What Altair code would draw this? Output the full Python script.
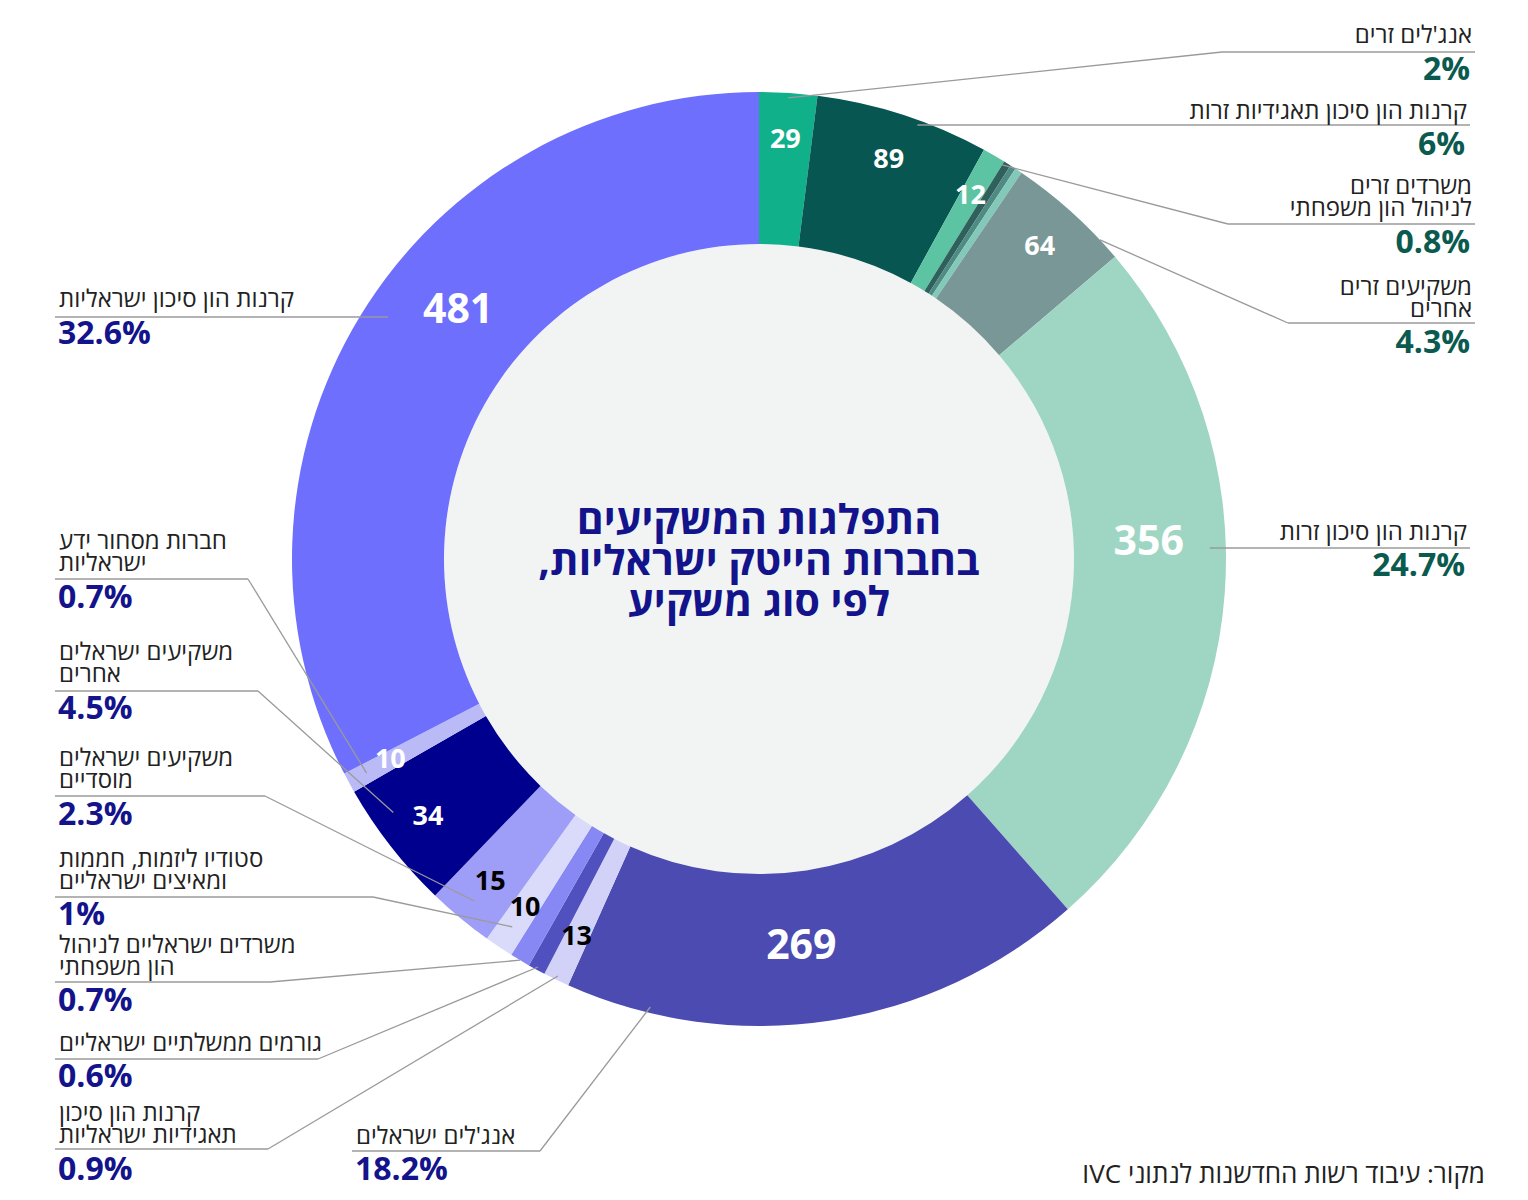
import math
import altair as alt
import pandas as pd

# Investor types, clockwise from 12 o'clock
categories = [
    "אנג'לים זרים",
    "קרנות הון סיכון תאגידיות זרות",
    "משרדים זרים לניהול הון משפחתי",
    "foreign_minor_1",
    "foreign_minor_2",
    "foreign_minor_3",
    "משקיעים זרים אחרים",
    "קרנות הון סיכון זרות",
    "אנג'לים ישראלים",
    "קרנות הון סיכון תאגידיות ישראליות",
    "גורמים ממשלתיים ישראליים",
    "משרדים ישראליים לניהול הון משפחתי",
    "סטודיו ליזמות, חממות ומאיצים ישראליים",
    "משקיעים ישראלים מוסדיים",
    "משקיעים ישראלים אחרים",
    "חברות מסחור ידע ישראליות",
    "קרנות הון סיכון ישראליות",
]
# share of investors, percent
shares = [2, 6, 0.8, 0.25, 0.2, 0.25, 4.3, 24.7, 18.2, 0.9, 0.6, 0.7, 1, 2.3, 4.5, 0.7, 32.6]
# counts printed inside the ring
slice_numbers = ["29", "89", "12", "", "", "", "64", "356", "269", "13", "", "", "10", "15", "34", "10", "481"]

slice_colors = [
    "#10B08B", "#075652", "#5CC4A3", "#2F605C", "#4F8A83", "#82C9B9", "#7A9798", "#9FD6C3",
    "#4C4BB1", "#D2D2F8", "#5050BF", "#8888F4", "#DADAFA", "#9E9EF8", "#00008E", "#BABAF6", "#6F6FFD",
]
number_colors = [
    "white", "white", "white", "white", "white", "white", "white", "white",
    "white", "black", "white", "white", "black", "black", "white", "white", "white",
]

title_lines = ["התפלגות המשקיעים", "בחברות הייטק ישראליות,", "לפי סוג משקיע"]
source_note = "מקור: עיבוד רשות החדשנות לנתוני IVC"

W, H = 1528, 1200
CX, CY = 759, 559
R_IN, R_OUT = 315, 467
NUM_FONT = "Open Sans"
HEB_FONT = "Open Sans"
NAVY = "#13138C"
TEAL = "#0B5A4F"
LEADER = "#9A9A9A"
BIG = ["481", "356", "269"]
# angular nudges (radians) for the large counts
BIG_NUDGE = {"481": 0.143, "356": -0.113, "269": 0.042}


def rtl(s):
    return "\u202B" + s + "\u202C"


df = pd.DataFrame({
    "cat": categories,
    "share": shares,
    "idx": list(range(len(categories))),
    "numcolor": number_colors,
    "small": [n if n not in BIG else "" for n in slice_numbers],
})
for b in BIG:
    df["big_" + b] = [n if n == b else "" for n in slice_numbers]

base = alt.Chart(df).encode(
    theta=alt.Theta("share:Q", stack=True),
    order=alt.Order("idx:Q"),
    x=alt.value(CX),
    y=alt.value(CY),
)

ring = base.mark_arc(innerRadius=R_IN, outerRadius=R_OUT).encode(
    color=alt.Color("cat:N", scale=alt.Scale(domain=categories, range=slice_colors), legend=None)
)

small_nums = base.mark_text(radius=420, fontSize=27, fontWeight="bold", font=NUM_FONT).encode(
    text="small:N", fill=alt.Fill("numcolor:N", scale=None)
)
big_nums = [
    base.mark_text(radius=390, fontSize=41, fontWeight="bold", font=NUM_FONT,
                   thetaOffset=BIG_NUDGE[b], fill="white").encode(text=f"big_{b}:N")
    for b in BIG
]

disc = alt.Chart(pd.DataFrame({"k": [0]})).mark_arc(
    theta=0, theta2=2 * math.pi, outerRadius=R_IN, innerRadius=0, fill="#F1F4F3"
).encode(x=alt.value(CX), y=alt.value(CY))

# callout placement: slice, side, first name line y, rule y, percent y,
# outer rule end, inner rule end (None = runs straight to the ring), anchor fraction, anchor radius, words on line 1
callouts = [
    (0, "R", 36, 52, 70, 1475, 1222, 0.5, 462, 0),
    (1, "R", 112, 125, 145, 1470, None, 0, 462, 0),
    (2, "R", 187, 224, 243, 1475, 1228, 1.0, 463, 2),
    (6, "R", 288, 323, 343, 1475, 1288, 0.82, 467, 2),
    (7, "R", 533, 548, 566, 1470, None, 0, 451, 0),
    (16, "L", 300, 317, 334, 55, None, 0, 443, 0),
    (15, "L", 542, 579, 598, 55, 248, 0.5, 447, 3),
    (14, "L", 653, 691, 709, 55, 258, 0.7, 445, 2),
    (13, "L", 759, 796, 815, 55, 265, 0.5, 445, 2),
    (12, "L", 860, 897, 915, 55, 373, 0.5, 443, 3),
    (11, "L", 946, 982, 1001, 55, 270, 0.5, 467, 3),
    (10, "L", 1044, 1059, 1077, 55, 318, 0.5, 464, 0),
    (9, "L", 1114, 1149, 1170, 55, 268, 0.5, 463, 3),
    (8, "L", 1137, 1151, 1170, 352, 540, 0.84, 461, 0),
]


def ring_point(i, frac, r):
    a0 = sum(shares[:i]) * 3.6
    a1 = a0 + shares[i] * 3.6
    a = math.radians(a0 + frac * (a1 - a0))
    return CX + r * math.sin(a), CY - r * math.cos(a)


segs, names_l, names_r, pct_l, pct_r = [], [], [], [], []
for i, side, ny, ry, py, far, near, frac, ar, split in callouts:
    sgn = 1 if side == "R" else -1
    if near is None:
        near = CX + sgn * math.sqrt(ar ** 2 - (ry - CY) ** 2)
        segs.append({"x": far, "y": ry, "x2": near, "y2": ry})
    else:
        ax, ay = ring_point(i, frac, ar)
        segs.append({"x": far, "y": ry, "x2": near, "y2": ry})
        segs.append({"x": near, "y": ry, "x2": ax, "y2": ay})
    words = categories[i].split(" ")
    lines = [" ".join(words[:split]), " ".join(words[split:])] if split else [categories[i]]
    tx = far - 3 if side == "R" else far + 4
    (names_r if side == "R" else names_l).append(
        {"x": tx, "y": ny, "t": "\n".join(rtl(ln) for ln in lines)})
    (pct_r if side == "R" else pct_l).append({"x": tx - 2 if side == "R" else tx - 1, "y": py,
                                             "t": f"{shares[i]:g}%"})

XY = dict(x=alt.X("x:Q", scale=None, axis=None), y=alt.Y("y:Q", scale=None, axis=None))

leaders = alt.Chart(pd.DataFrame(segs)).mark_rule(color=LEADER, strokeWidth=1.3).encode(
    x2="x2:Q", y2="y2:Q", **XY
)


def text_layer(rows, align, size, weight, color, font, line_height=22):
    return alt.Chart(pd.DataFrame(rows)).mark_text(
        align=align, baseline="middle", fontSize=size, fontWeight=weight, color=color, font=font,
        lineBreak="\n", lineHeight=line_height,
    ).encode(text="t:N", **XY)


name_left = text_layer(names_l, "left", 24, "normal", "#222222", HEB_FONT)
name_right = text_layer(names_r, "right", 24, "normal", "#222222", HEB_FONT)
pct_left = text_layer(pct_l, "left", 32, "bold", NAVY, NUM_FONT)
pct_right = text_layer(pct_r, "right", 32, "bold", TEAL, NUM_FONT)

title = text_layer(
    [{"x": CX, "y": 522, "t": "\n".join(rtl(s) for s in title_lines)}],
    "center", 41, "bold", NAVY, HEB_FONT, line_height=41,
)
source = text_layer([{"x": 1485, "y": 1175, "t": rtl(source_note)}], "right", 26, "normal", "#222222", HEB_FONT)

chart = alt.layer(
    disc, ring, small_nums, *big_nums, leaders,
    name_left, name_right, pct_left, pct_right, title, source,
).resolve_scale(color="independent", fill="independent").properties(
    width=W, height=H, autosize=alt.AutoSizeParams(type="none"), padding=0,
    background="white",
).configure_view(stroke=None)

chart.save("out.html", embed_options={"renderer": "svg", "actions": False})
